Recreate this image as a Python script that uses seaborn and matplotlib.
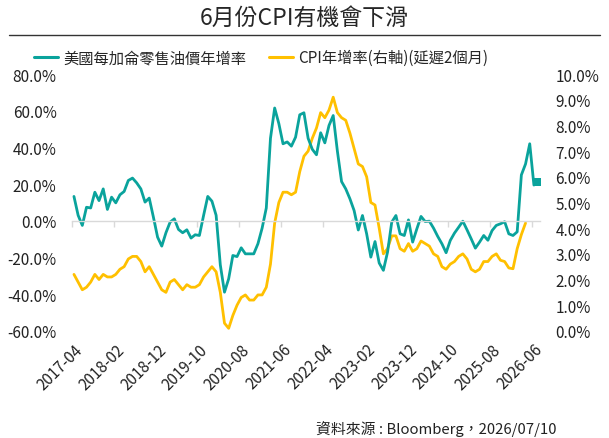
import numpy as np
import pandas as pd
import seaborn as sns
import matplotlib.pyplot as plt
from matplotlib.lines import Line2D

# monthly categories 2017-04 .. 2026-07
months = pd.period_range("2017-04", "2026-07", freq="M").strftime("%Y-%m").tolist()

# US retail gasoline price per gallon, yoy % (left axis)
gas_yoy = [13.3, 3, -2.5, 7.4, 7, 15.6, 11, 17.4, 6.2, 12.9,
           9.8, 14.2, 16, 22, 23.3, 20.7, 17.4, 10.2, 12.4, 2,
           -8.9, -13.8, -6.5, -0.7, 1.1, -4.7, -6.5, -4.9, -9.4, -7.6,
           -8, 2.9, 13.3, 10.7, 3, -24, -38.9, -31.6, -18.9, -19.5,
           -14.7, -18, -18, -18, -12.5, -4, 7, 45, 61.5, 53,
           42, 43, 40.7, 45.6, 57.8, 58.9, 45, 39, 36, 48,
           42.5, 52, 57.4, 38, 21.4, 17.4, 12, 5.6, -5, 2.9,
           -7.1, -19.8, -11.3, -23, -27, -17, -0.7, 2.9, -7.1, -8,
           0.5, -11.6, -4.4, 2.4, -0.4, -0.2, -4, -8.5, -12.5, -17.4,
           -10.7, -6.7, -3.5, -0.2, -4.9, -9.8, -14.9, -11.6, -8, -10.6,
           -5.3, -2.5, -1.6, -0.5, -7.1, -8, -6, 25, 31, 42,
           19.5, 21]

# CPI yoy %, lagged 2 months (right axis)
cpi_yoy = [2.2, 1.9, 1.6, 1.7, 1.9, 2.2, 2.0, 2.2, 2.1, 2.1,
           2.2, 2.4, 2.5, 2.8, 2.9, 2.9, 2.7, 2.3, 2.5, 2.2,
           1.9, 1.6, 1.5, 1.9, 2.0, 1.8, 1.6, 1.8, 1.7, 1.7,
           1.8, 2.1, 2.3, 2.5, 2.3, 1.5, 0.3, 0.1, 0.6, 1.0,
           1.3, 1.4, 1.2, 1.2, 1.4, 1.4, 1.7, 2.6, 4.2, 5.0,
           5.4, 5.4, 5.3, 5.4, 6.2, 6.8, 7.0, 7.5, 7.9, 8.5,
           8.3, 8.6, 9.1, 8.5, 8.3, 8.2, 7.7, 7.1, 6.5, 6.4,
           6.0, 5.0, 4.9, 4.0, 3.0, 3.2, 3.7, 3.7, 3.2, 3.1,
           3.4, 3.1, 3.2, 3.5, 3.4, 3.3, 3.0, 2.9, 2.5, 2.4,
           2.6, 2.7, 2.9, 3.0, 2.8, 2.4, 2.3, 2.4, 2.7, 2.7,
           2.9, 3.0, 2.75, 2.7, 2.45, 2.42, 3.2, 3.75, 4.2]

left_ticks = [-60, -40, -20, 0, 20, 40, 60, 80]
right_ticks = list(range(0, 11))
label_every = 10

gas_label = "美國每加侖零售油價年增率"
cpi_label = "CPI年增率(右軸)(延遲2個月)"

teal = "#0aa39c"
gold = "#ffc000"

df_gas = pd.DataFrame({"x": np.arange(len(gas_yoy)), "v": gas_yoy})
df_cpi = pd.DataFrame({"x": np.arange(len(cpi_yoy)), "v": cpi_yoy})

sns.set_theme(style="white")
plt.rcParams["font.family"] = ["Noto Sans CJK TC", "DejaVu Sans"]

fig = plt.figure(figsize=(6.09, 4.39), dpi=100)
ax = fig.add_axes([0.118, 0.244, 0.769, 0.585])
ax2 = ax.twinx()

sns.lineplot(data=df_gas, x="x", y="v", ax=ax, color=teal, linewidth=2.0)
sns.scatterplot(data=df_gas.tail(1), x="x", y="v", ax=ax, color=teal,
                marker="s", s=40, linewidth=0, zorder=5)
sns.lineplot(data=df_cpi, x="x", y="v", ax=ax2, color=gold, linewidth=2.0)
ax.set_zorder(ax2.get_zorder() + 1)
ax.patch.set_visible(False)

n = len(months)
ax.set_xlim(-0.5, n - 0.5)
ax.set_ylim(-60, 80)
ax2.set_ylim(0, 10)

ax.set_yticks(left_ticks)
ax.set_yticklabels([f"{t:.1f}%" for t in left_ticks])
ax2.set_yticks(right_ticks)
ax2.set_yticklabels([f"{t:.1f}%" for t in right_ticks])
ax.tick_params(axis="y", length=0, pad=11, labelsize=11, colors="#222222")
ax2.tick_params(axis="y", length=0, pad=11, labelsize=11, colors="#222222")
ax.set_xlabel("")
ax.set_ylabel("")
ax2.set_xlabel("")
ax2.set_ylabel("")

for a in (ax, ax2):
    for s in a.spines.values():
        s.set_visible(False)

# zero line with tick marks at category boundaries
ax.spines["bottom"].set_visible(True)
ax.spines["bottom"].set_position(("data", 0))
ax.spines["bottom"].set_color("#d9d9d9")
ax.spines["bottom"].set_linewidth(1.0)
ax.set_xticks(np.arange(0, n, label_every) - 0.5)
ax.tick_params(axis="x", length=4, width=1, color="#d9d9d9", direction="out",
               labelbottom=False, bottom=True)

# category labels at the bottom
sec = ax.secondary_xaxis("bottom")
sec.set_xticks(np.arange(0, n, label_every))
sec.set_xticklabels(months[::label_every], rotation=45, ha="right",
                    rotation_mode="anchor")
sec.tick_params(axis="x", length=0, pad=7, labelsize=11, colors="#222222")
sec.spines["bottom"].set_visible(False)

# title and rule
fig.text(0.5, 0.958, "6月份CPI有機會下滑", ha="center", va="center",
         fontsize=16.5, fontweight="medium", color="#262626")
fig.add_artist(Line2D([0.015, 0.985], [0.918, 0.918], transform=fig.transFigure,
                      color="#333333", linewidth=1.0))

handles = [Line2D([], [], color=teal, linewidth=2.2),
           Line2D([], [], color=gold, linewidth=2.2)]
fig.legend(handles, [gas_label, cpi_label], loc="center", ncol=2,
           bbox_to_anchor=(0.4286, 0.866), frameon=False, fontsize=11,
           handlelength=1.6, handletextpad=0.3, columnspacing=1.5)

fig.text(0.913, 0.022, "資料來源 : Bloomberg，2026/07/10", ha="right", va="center",
         fontsize=10.7, color="#222222")

fig.savefig("out.png", dpi=100)
